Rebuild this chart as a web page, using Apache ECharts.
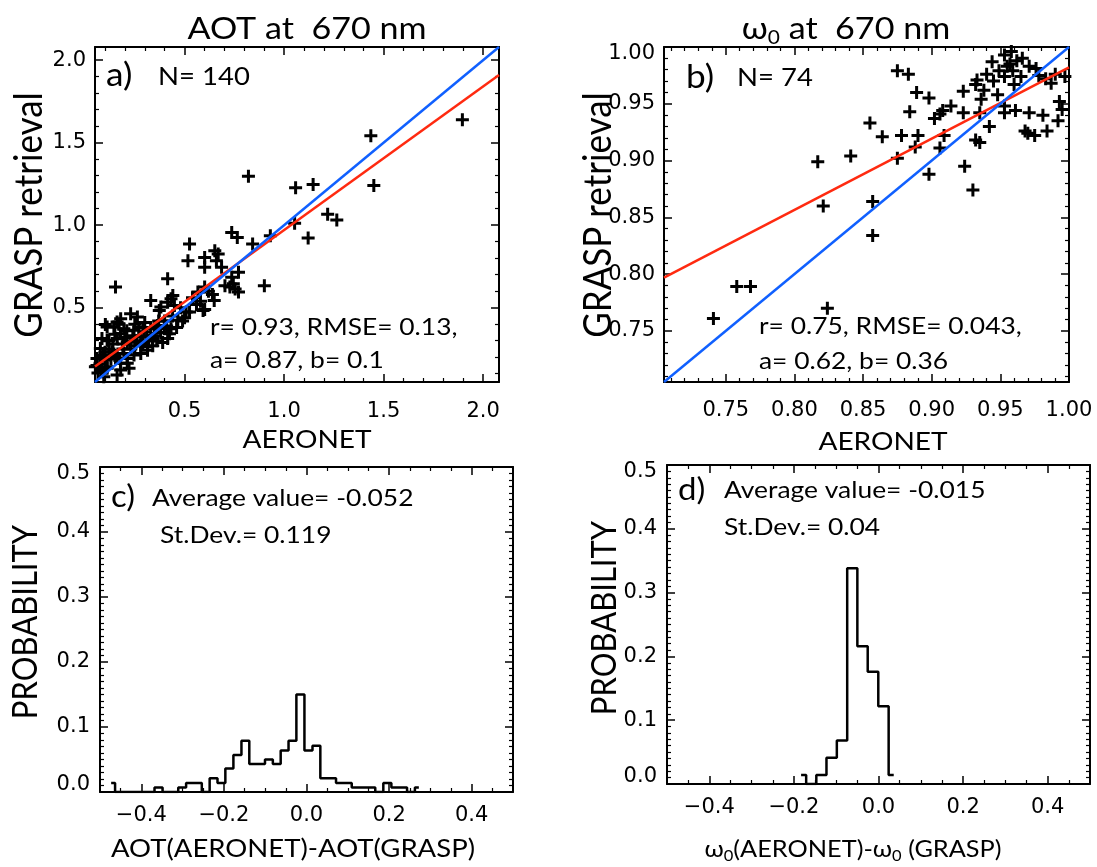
<!DOCTYPE html>
<html><head><meta charset="utf-8">
<script src="https://cdn.jsdelivr.net/npm/echarts@6/dist/echarts.min.js"></script>
<style>html,body{margin:0;padding:0;background:#fff}#c{width:1097px;height:867px}</style>
</head><body><div id="c"></div>
<script>
// ---------- DATA ----------
// Panel a: AOT at 670 nm, [AERONET, GRASP]
const aotPoints = [
[1.896,1.639],[1.436,1.542],[1.451,1.241],[0.821,1.297],[1.058,1.227],[1.146,1.247],[1.219,1.066],[1.265,1.032],
[1.053,1.012],[1.121,0.922],[0.931,0.936],[0.842,0.886],[0.737,0.956],[0.765,0.926],[0.901,0.634],[0.525,0.886],
[0.517,0.785],[0.601,0.805],[0.601,0.745],[0.652,0.845],[0.669,0.825],[0.660,0.785],[0.686,0.745],[0.771,0.715],
[0.737,0.685],[0.703,0.634],[0.728,0.625],[0.754,0.614],[0.771,0.595],[0.745,0.645],[0.415,0.675],[0.153,0.625],
[0.330,0.544],[0.441,0.574],[0.415,0.534],[0.381,0.504],[0.449,0.514],[0.432,0.554],[0.567,0.595],[0.601,0.625],
[0.649,0.544],[0.525,0.474],[0.601,0.490],[0.466,0.424],[0.424,0.343],[0.398,0.374],[0.364,0.393],[0.339,0.313],
[0.229,0.464],[0.263,0.444],[0.179,0.434],[0.102,0.398],[0.145,0.384],[0.195,0.373],[0.246,0.363],[0.297,0.353],
[0.111,0.303],[0.162,0.313],[0.212,0.293],[0.280,0.273],[0.077,0.253],[0.136,0.233],[0.195,0.223],[0.060,0.193],
[0.102,0.183],[0.162,0.193],[0.212,0.163],[0.052,0.143],[0.111,0.133],[0.179,0.123],[0.246,0.213],[0.314,0.243],
[0.348,0.373],[0.373,0.484],[0.508,0.474],[0.593,0.484],[0.432,0.373],[0.415,0.313],[0.161,0.414],[0.111,0.384],
[0.085,0.313],[0.178,0.343],[0.280,0.323],[0.229,0.293],[0.314,0.263],[0.280,0.223],[0.178,0.163],[0.111,0.143],
[0.043,0.133],[0.221,0.133],[0.161,0.092],[0.094,0.082],[0.212,0.193],[0.065,0.105],[0.075,0.160],[0.090,0.210],
[0.120,0.250],[0.140,0.280],[0.150,0.340],[0.170,0.400],[0.190,0.280],[0.200,0.320],[0.210,0.360],[0.230,0.250],
[0.240,0.330],[0.250,0.400],[0.260,0.300],[0.270,0.380],[0.290,0.290],[0.300,0.410],[0.310,0.330],[0.320,0.300],
[0.330,0.380],[0.340,0.270],[0.350,0.330],[0.360,0.300],[0.370,0.420],[0.380,0.350],[0.390,0.290],[0.400,0.420],
[0.410,0.390],[0.440,0.450],[0.460,0.380],[0.480,0.500],[0.490,0.420],[0.500,0.440],[0.540,0.560],[0.560,0.520],
[0.580,0.540],[0.620,0.600],[0.640,0.580],[0.130,0.190],[0.150,0.210],[0.080,0.120],[0.100,0.230],[0.120,0.300],
[0.190,0.250],[0.250,0.270],[0.290,0.380],[0.060,0.150]
];
const aotFitLine = [[0.05,0.1435],[2.08,1.91]];
const aotOneToOne = [[0.05,0.05],[2.08,2.08]];

// Panel b: single scattering albedo at 670 nm
const ssaPoints = [
[0.741,0.761],[0.758,0.789],[0.768,0.789],[0.824,0.770],[0.817,0.899],[0.821,0.860],[0.841,0.904],[0.855,0.933],
[0.857,0.864],[0.857,0.834],[0.864,0.921],[0.875,0.979],[0.883,0.976],[0.878,0.922],[0.875,0.902],[0.884,0.943],
[0.889,0.960],[0.898,0.955],[0.890,0.922],[0.888,0.912],[0.898,0.888],[0.902,0.937],[0.906,0.941],[0.908,0.944],
[0.914,0.948],[0.909,0.922],[0.906,0.911],[0.923,0.961],[0.923,0.942],[0.924,0.895],[0.930,0.874],[0.932,0.967],
[0.933,0.971],[0.935,0.916],[0.932,0.918],[0.936,0.954],[0.935,0.942],[0.942,0.930],[0.940,0.976],[0.944,0.987],
[0.953,0.993],[0.953,0.974],[0.955,0.983],[0.959,0.979],[0.960,0.967],[0.953,0.948],[0.953,0.942],[0.958,0.996],
[0.976,0.981],[0.987,0.968],[0.981,0.940],[0.971,0.942],[0.961,0.944],[0.993,0.952],[0.984,0.926],[0.975,0.922],
[0.968,0.926],[0.992,0.935],[0.997,0.974],[0.965,0.974],[0.971,0.983],[0.949,0.979],[0.703,0.874],[0.962,0.988],
[0.966,0.990],[0.957,0.985],[0.978,0.975],[0.983,0.972],[0.990,0.976],[0.945,0.970],[0.938,0.962],[0.948,0.958],
[0.970,0.924],[0.995,0.945]
];
const ssaFitLine = [[0.705,0.797],[1.0,0.982]];
const ssaOneToOne = [[0.705,0.705],[1.0,1.0]];

// Panel c: histogram of AOT differences (bin centres, probability)
const aotDiffCenters = [-0.473,-0.454,-0.435,-0.416,-0.397,-0.378,-0.358,-0.339,-0.320,-0.301,
  -0.282,-0.263,-0.244,-0.225,-0.206,-0.187,-0.167,-0.148,-0.129,-0.110,
  -0.091,-0.072,-0.053,-0.034,-0.015,0.005,0.024,0.043,0.062,0.081,
  0.100,0.119,0.138,0.157,0.176,0.196,0.215,0.234,0.253,0.272];
const aotDiffProb = [0.014,0,0,0,0,0,0.007,0,0,0.007,
  0.014,0.014,0,0.021,0.014,0.036,0.057,0.079,0.043,0.043,
  0.050,0.043,0.064,0.079,0.150,0.064,0.071,0.021,0.021,0.014,
  0.014,0.007,0.007,0.007,0,0.014,0.007,0.007,0,0.007];

// Panel d: histogram of w0 differences
const ssaDiffCenters = [-0.183,-0.159,-0.135,-0.111,-0.086,-0.062,-0.038,-0.013,0.012,0.036];
const ssaDiffProb = [0.014,0,0.014,0.041,0.068,0.338,0.216,0.176,0.122,0.014];

// ---------- CHART ----------
const FONT = 'Lato, "Open Sans", "Noto Sans", sans-serif';
const TICKFONT = '"DejaVu Sans", sans-serif';
const fmt1 = v => v.toFixed(1);
const fmt2 = v => v.toFixed(2);
const fmtSigned = v => (v < -1e-9 ? '\u2212' : '') + Math.abs(v).toFixed(1);
// y labels at the top end sit a little lower, at the bottom end a little higher
function shifted(base, lo, hi) {
  return v => {
    const s = base(v);
    if (hi !== null && Math.abs(v - hi) < 1e-9) return '{dn|' + s + '}';
    if (lo !== null && Math.abs(v - lo) < 1e-9) return '{up|' + s + '}';
    return s;
  };
}
const shiftRich = {
  dn: {fontFamily: TICKFONT, fontSize: 21, color: '#000', padding: [14, 0, 0, 0]},
  up: {fontFamily: TICKFONT, fontSize: 21, color: '#000', padding: [0, 0, 14, 0]}
};
const grids = [
  {left: 95, top: 47, width: 404, height: 335},
  {left: 664, top: 47, width: 405, height: 335},
  {left: 100, top: 467, width: 413, height: 325},
  {left: 667, top: 465, width: 423, height: 319}
];
function axis(grid, pos, min, max, split, minorSplit, label, fmt, showMin, showMax, margin) {
  return {
    type: 'value', gridIndex: grid, position: pos, min: min, max: max, splitNumber: split,
    axisLine: {show: true, onZero: false, lineStyle: {color: '#000', width: 2}},
    axisTick: {show: true, inside: true, length: 8, lineStyle: {color: '#000', width: 1.5}},
    minorTick: {show: true, splitNumber: minorSplit, length: 4, lineStyle: {color: '#000', width: 1.2}},
    splitLine: {show: false}, minorSplitLine: {show: false},
    axisLabel: {show: label, formatter: fmt, interval: 0, showMinLabel: showMin, showMaxLabel: showMax,
      hideOverlap: false, fontFamily: TICKFONT, fontSize: 21, color: '#000', margin: margin, rich: shiftRich}
  };
}
const xAxes = [
  axis(0,'bottom',0.05,2.08,4,5,true,fmt1,false,false,19), axis(0,'top',0.05,2.08,4,5,false,fmt1,false,false,8),
  axis(1,'bottom',0.705,1.0,6,5,true,fmt2,false,true,18), axis(1,'top',0.705,1.0,6,5,false,fmt2,false,true,8),
  axis(2,'bottom',-0.5,0.5,5,4,true,fmtSigned,false,false,13), axis(2,'top',-0.5,0.5,5,4,false,fmtSigned,false,false,8),
  axis(3,'bottom',-0.5,0.5,5,4,true,fmtSigned,false,false,13), axis(3,'top',-0.5,0.5,5,4,false,fmtSigned,false,false,8)
];
const yAxes = [
  axis(0,'left',0.05,2.08,4,5,true,fmt1,false,false,9), axis(0,'right',0.05,2.08,4,5,false,fmt1,false,false,8),
  axis(1,'left',0.705,1.0,6,5,true,shifted(fmt2,null,1.0),false,true,9), axis(1,'right',0.705,1.0,6,5,false,fmt2,false,true,8),
  axis(2,'left',0,0.5,5,10,true,shifted(fmt1,0,0.5),true,true,10), axis(2,'right',0,0.5,5,10,false,fmt1,true,true,8),
  axis(3,'left',0,0.5,5,10,true,shifted(fmt1,0,0.5),true,true,10), axis(3,'right',0,0.5,5,10,false,fmt1,true,true,8)
];
const PLUS = 'path://M5,0H8V5H13V8H8V13H5V8H0V5H5Z';
function scatter(idx, data) {
  return {type: 'scatter', xAxisIndex: idx, yAxisIndex: idx, data: data, symbol: PLUS, symbolSize: 13,
    itemStyle: {color: '#000', opacity: 1}, z: 2, silent: true, clip: true};
}
function line(idx, data, color) {
  return {type: 'line', xAxisIndex: idx, yAxisIndex: idx, data: data, symbol: 'none', z: 3,
    lineStyle: {color: color, width: 2.5}, silent: true, clip: true};
}
function hist(idx, centers, probs) {
  return {type: 'line', xAxisIndex: idx, yAxisIndex: idx, step: 'middle', symbol: 'none', z: 3,
    data: centers.map((c, i) => [c, probs[i]]), lineStyle: {color: '#000', width: 2.5}, silent: true, clip: true};
}
const RED = '#ff2a10', BLUE = '#1060ff';
function txt(x, y, text, size, o) {
  o = o || {};
  const al = o.align || 'left';
  return {type: 'text', x: x, y: y, rotation: o.rot || 0, scaleX: o.sx || 1.1, scaleY: o.sy || 1, z: 100,
    style: {text: text, fontFamily: FONT, fontSize: size, fill: '#000', align: al, verticalAlign: 'middle',
      textAlign: al, textVerticalAlign: 'middle', rich: o.rich}};
}
function subRich(size, sub) {
  return {m: {fontFamily: FONT, fontSize: size, lineHeight: Math.round(size * 1.2), fill: '#000'},
          s: {fontFamily: FONT, fontSize: sub, lineHeight: Math.round(sub * 0.8), verticalAlign: 'bottom', fill: '#000'}};
}
const VERT = {rot: Math.PI / 2, sx: 1, sy: 1.1, align: 'center'};
const graphics = [
  txt(307, 29, 'AOT at  670 nm', 31, {align: 'center'}),
  txt(846, 29, '{m|\u03c9}{s|0}{m| at  670 nm}', 31, {align: 'center', rich: subRich(31, 19)}),
  txt(30, 215, 'GRASP retrieval', 35, VERT),
  txt(599, 215, 'GRASP retrieval', 35, VERT),
  txt(307, 440, 'AERONET', 25.5, {align: 'center'}),
  txt(883, 442, 'AERONET', 25.5, {align: 'center'}),
  txt(106, 76, 'a)', 32), txt(158, 77, 'N= 140', 25),
  txt(210, 327, 'r= 0.93, RMSE= 0.13,', 24), txt(210, 360, 'a= 0.87, b= 0.1', 24),
  txt(686, 78, 'b)', 32), txt(737, 78, 'N= 74', 25),
  txt(759, 326, 'r= 0.75, RMSE= 0.043,', 24), txt(759, 361, 'a= 0.62, b= 0.36', 24),
  txt(26, 622, 'PROBABILITY', 31, VERT),
  txt(605, 618, 'PROBABILITY', 31, VERT),
  txt(111, 497, 'c)', 30), txt(152, 498, 'Average value= -0.052', 24), txt(160, 535, 'St.Dev.= 0.119', 24),
  txt(678, 490, 'd)', 30), txt(724, 490, 'Average value= -0.015', 24), txt(724, 527, 'St.Dev.= 0.04', 24),
  txt(293, 849, 'AOT(AERONET)-AOT(GRASP)', 25, {align: 'center'}),
  txt(853, 850, '{m|\u03c9}{s|0}{m|(AERONET)-\u03c9}{s|0}{m| (GRASP)}', 23, {align: 'center', rich: subRich(23, 15)})
];
const chart = echarts.init(document.getElementById('c'), null, {renderer: 'canvas'});
chart.setOption({
  animation: false,
  backgroundColor: '#fff',
  grid: grids,
  xAxis: xAxes,
  yAxis: yAxes,
  series: [
    scatter(0, aotPoints), line(0, aotFitLine, RED), line(0, aotOneToOne, BLUE),
    scatter(2, ssaPoints), line(2, ssaFitLine, RED), line(2, ssaOneToOne, BLUE),
    hist(4, aotDiffCenters, aotDiffProb),
    hist(6, ssaDiffCenters, ssaDiffProb)
  ],
  graphic: {elements: graphics}
});
</script></body></html>
